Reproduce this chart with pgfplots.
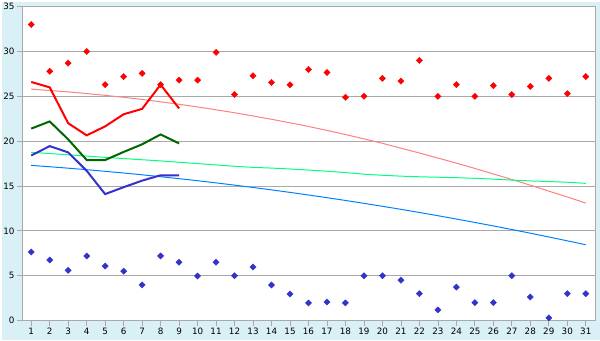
\documentclass[border=0pt]{standalone}
\usepackage{pgfplots}
\pgfplotsset{compat=1.18}
\usepackage{fontspec}
\setmainfont{DejaVu Sans}
\definecolor{bgblue}{HTML}{DAF0F7}
\definecolor{gridgray}{HTML}{A9A9A9}
\definecolor{myred}{HTML}{FF0000}
\definecolor{myblue}{HTML}{3333CC}
\definecolor{mygreen}{HTML}{006600}
\definecolor{pinkline}{HTML}{FF8080}
\definecolor{springline}{HTML}{00FF80}
\definecolor{azureline}{HTML}{0080FF}
\begin{document}
\begin{tikzpicture}[x=1bp,y=1bp]
\fill[bgblue] (0,0) rectangle (600,340);
\begin{axis}[
  at={(20bp,20bp)}, anchor=south west,
  scale only axis, width=575bp, height=315bp,
  xmin=0.5, xmax=31.5, ymin=0, ymax=35,
  xtick={1,...,31}, ytick={0,5,...,35},
  ymajorgrids, grid style={gridgray, line width=0.8bp},
  axis line style={gridgray, line width=0.8bp},
  tick style={gridgray, line width=0.8bp},
  tick align=outside, major tick length=5bp,
  xtick pos=bottom, ytick pos=left,
  axis background/.style={fill=white},
  ticklabel style={font=\fontsize{8.8bp}{10bp}\selectfont},
  /pgf/number format/assume math mode=true,
  xticklabel style={yshift=1bp},
  yticklabel style={xshift=1bp},
  clip=false,
]
% thin trend lines
\addplot[pinkline, line width=1bp] coordinates {
(1,25.80)(2,25.65)(3,25.49)(4,25.31)(5,25.11)(6,24.89)(7,24.65)(8,24.39)(9,24.11)(10,23.82)
(11,23.50)(12,23.17)(13,22.81)(14,22.44)(15,22.05)(16,21.64)(17,21.20)(18,20.74)(19,20.26)(20,19.76)
(21,19.22)(22,18.68)(23,18.12)(24,17.55)(25,16.96)(26,16.35)(27,15.73)(28,15.09)(29,14.43)(30,13.78)(31,13.10)};
\addplot[springline, line width=1bp] coordinates {
(1,18.76)(2,18.62)(3,18.48)(4,18.34)(5,18.20)(6,18.06)(7,17.93)(8,17.80)(9,17.65)(10,17.50)
(11,17.35)(12,17.20)(13,17.08)(14,17.00)(15,16.90)(16,16.78)(17,16.65)(18,16.50)(19,16.32)(20,16.20)
(21,16.10)(22,16.03)(23,15.98)(24,15.93)(25,15.86)(26,15.77)(27,15.66)(28,15.57)(29,15.50)(30,15.42)(31,15.30)};
\addplot[azureline, line width=1bp] coordinates {
(1,17.30)(2,17.15)(3,16.99)(4,16.82)(5,16.64)(6,16.45)(7,16.25)(8,16.04)(9,15.82)(10,15.59)
(11,15.35)(12,15.10)(13,14.84)(14,14.57)(15,14.29)(16,14.00)(17,13.70)(18,13.39)(19,13.07)(20,12.74)
(21,12.40)(22,12.05)(23,11.69)(24,11.32)(25,10.94)(26,10.55)(27,10.15)(28,9.74)(29,9.32)(30,8.89)(31,8.45)};
% thick lines
\addplot[myred, line width=2bp] coordinates {
(1,26.6)(2,26.0)(3,22.0)(4,20.65)(5,21.65)(6,23.0)(7,23.6)(8,26.3)(9,23.65)};
\addplot[mygreen, line width=2bp] coordinates {
(1,21.4)(2,22.2)(3,20.2)(4,17.9)(5,17.9)(6,18.8)(7,19.65)(8,20.75)(9,19.75)};
\addplot[myblue, line width=2bp] coordinates {
(1,18.4)(2,19.45)(3,18.75)(4,16.7)(5,14.1)(6,14.87)(7,15.6)(8,16.2)(9,16.2)};
% scatter points
\addplot[only marks, mark=square*, mark options={rotate=45}, mark size=2.2bp, myred] coordinates {
(1,33.0)(2,27.8)(3,28.7)(4,30.0)(5,26.3)(6,27.2)(7,27.55)(8,26.3)(9,26.8)(10,26.8)
(11,29.9)(12,25.2)(13,27.3)(14,26.55)(15,26.3)(16,28.0)(17,27.65)(18,24.9)(19,25.0)(20,27.0)
(21,26.7)(22,29.0)(23,25.0)(24,26.3)(25,25.0)(26,26.2)(27,25.2)(28,26.1)(29,27.0)(30,25.3)(31,27.2)};
\addplot[only marks, mark=square*, mark options={rotate=45}, mark size=2.2bp, myblue] coordinates {
(1,7.64)(2,6.75)(3,5.6)(4,7.2)(5,6.08)(6,5.5)(7,3.97)(8,7.2)(9,6.5)(10,4.97)
(11,6.5)(12,5.0)(13,5.97)(14,3.97)(15,2.97)(16,1.97)(17,2.08)(18,1.97)(19,5.0)(20,5.0)
(21,4.5)(22,3.0)(23,1.19)(24,3.74)(25,2.0)(26,2.0)(27,5.0)(28,2.63)(29,0.3)(30,3.0)(31,3.0)};
\end{axis}
\end{tikzpicture}
\end{document}
